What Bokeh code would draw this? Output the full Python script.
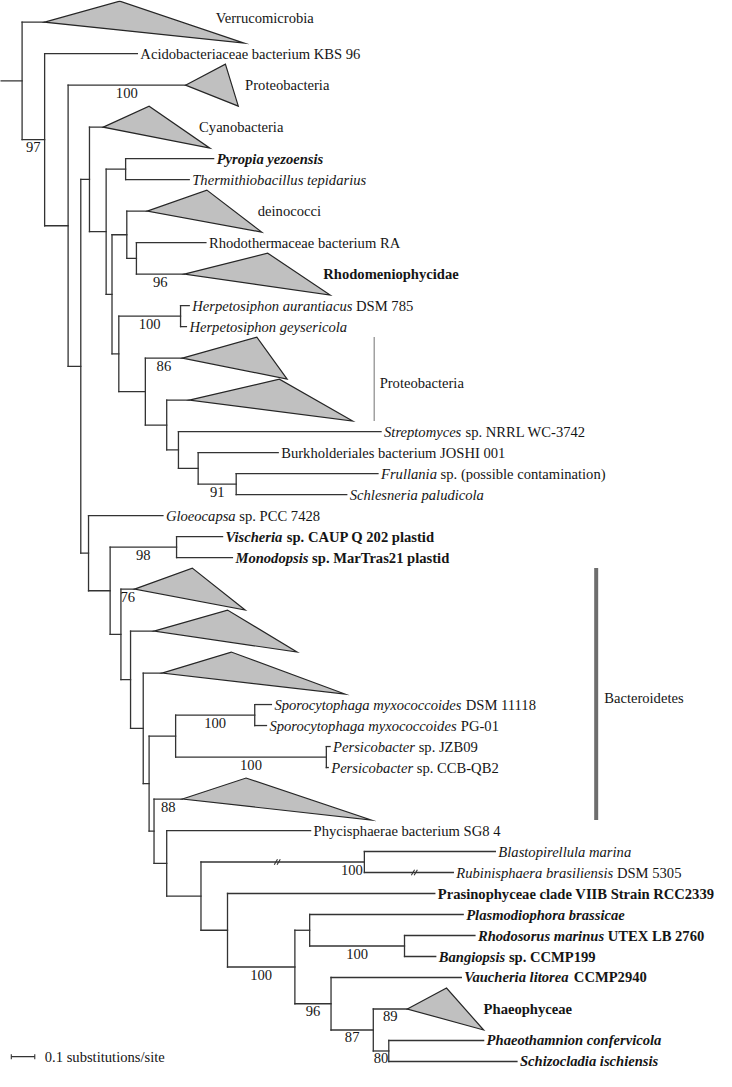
import re
from collections import defaultdict
from bokeh.plotting import figure
from bokeh.models import Range1d, ColumnDataSource
from bokeh.embed import file_html
from bokeh.resources import INLINE
from bokeh.core.properties import value

# ======================= DATA =======================
# internal nodes: depth in substitutions/site from the left edge
node_ids = ["root", "n1", "n2", "n3", "n4", "n5", "n6", "n7", "n8", "n9", "n10", "n11", "n12", "n13",
            "n14", "n15", "n16", "n17", "n18", "n19", "n20", "n21", "n22", "n23", "n24", "n25", "n26",
            "n27", "n28", "n29", "n30", "n31", "n32", "n33", "n34", "n35", "n36", "n37"]
node_parent = [None, "root", "n1", "n2", "n3", "n4", "n5", "n5", "n7", "n8", "n7", "n10", "n10", "n12",
               "n13", "n14", "n15", "n3", "n17", "n18", "n18", "n20", "n21", "n22", "n23", "n24", "n24",
               "n23", "n27", "n28", "n29", "n29", "n31", "n32", "n33", "n32", "n35", "n36"]
node_depth = [0.092, 0.188, 0.288, 0.342, 0.379, 0.450, 0.533, 0.475, 0.538, 0.579, 0.504, 0.767, 0.617,
              0.708, 0.758, 0.842, 1.004, 0.375, 0.467, 0.750, 0.513, 0.554, 0.608, 0.633, 0.746, 1.083,
              1.388, 0.654, 0.708, 0.854, 1.550, 0.967, 1.254, 1.317, 1.721, 1.408, 1.588, 1.654]
node_support = [None, "97", None, None, None, None, None, None, None, None, None, "100", None, None,
                None, None, "91", None, None, "98", None, None, None, None, None, "100", "100",
                None, None, None, "100", None, "100", None, "100", "96", "87", "80"]
node_break = [None] * 30 + [1.179] + [None] * 7

# terminal taxa
leaf_labels = [
    "Acidobacteriaceae bacterium KBS 96",
    "<i>Pyropia yezoensis</i>",
    "<i>Thermithiobacillus tepidarius</i>",
    "Rhodothermaceae bacterium RA",
    "<i>Herpetosiphon aurantiacus</i> DSM 785",
    "<i>Herpetosiphon geysericola</i>",
    "<i>Streptomyces</i> sp. NRRL WC-3742",
    "Burkholderiales bacterium JOSHI 001",
    "<i>Frullania</i> sp. (possible contamination)",
    "<i>Schlesneria paludicola</i>",
    "<i>Gloeocapsa</i> sp. PCC 7428",
    "<i>Vischeria</i> sp. CAUP Q 202 plastid",
    "<i>Monodopsis</i> sp. MarTras21 plastid",
    "<i>Sporocytophaga myxococcoides</i> DSM 11118",
    "<i>Sporocytophaga myxococcoides</i> PG-01",
    "<i>Persicobacter</i> sp. JZB09",
    "<i>Persicobacter</i> sp. CCB-QB2",
    "Phycisphaerae bacterium SG8 4",
    "<i>Blastopirellula marina</i>",
    "<i>Rubinisphaera brasiliensis</i> DSM 5305",
    "Prasinophyceae clade VIIB Strain RCC2339",
    "<i>Plasmodiophora brassicae</i>",
    "<i>Rhodosorus marinus</i> UTEX LB 2760",
    "<i>Bangiopsis</i> sp. CCMP199",
    "<i>Vaucheria litorea</i> CCMP2940",
    "<i>Phaeothamnion confervicola</i>",
    "<i>Schizocladia ischiensis</i>",
]
leaf_parent = ["n1", "n6", "n6", "n9", "n11", "n11", "n14", "n15", "n16", "n16", "n17", "n19", "n19",
               "n25", "n25", "n26", "n26", "n28", "n30", "n30", "n31", "n33", "n34", "n34", "n35",
               "n37", "n37"]
leaf_depth = [0.583, 0.908, 0.804, 0.875, 0.804, 0.792, 1.621, 1.183, 1.608, 1.475, 0.692, 0.946, 0.988,
              1.154, 1.133, 1.404, 1.396, 1.321, 2.108, 1.929, 1.850, 1.971, 2.021, 1.854, 1.963,
              2.058, 2.200]
leaf_row = [2.5, 7.5, 8.5, 11.5, 14.5, 15.5, 20.5, 21.5, 22.5, 23.5, 24.5, 25.5, 26.5, 33.5, 34.5,
            35.5, 36.5, 39.5, 40.5, 41.5, 42.5, 43.5, 44.5, 45.5, 46.5, 49.5, 50.5]
leaf_bold = [False, True, False, False, False, False, False, False, False, False, False, True, True,
             False, False, False, False, False, False, False, True, True, True, True, True, True, True]
leaf_break = [None] * 19 + [1.763] + [None] * 7

# collapsed clades (triangles): base depth, shortest and longest tip depth
clade_ids = ["verr", "prot", "cyan", "dein", "rhod", "protA", "protB", "bac1", "bac2", "bac3", "bac4",
             "phae"]
clade_labels = ["Verrucomicrobia", "Proteobacteria", "Cyanobacteria", "deinococci", "Rhodomeniophycidae",
                "", "", "", "", "", "", "Phaeophyceae"]
clade_parent = ["root", "n2", "n4", "n8", "n9", "n12", "n13", "n20", "n21", "n22", "n27", "n36"]
clade_base = [0.188, 0.788, 0.438, 0.625, 0.783, 0.775, 0.804, 0.571, 0.654, 0.688, 0.775, 1.733]
clade_min = [0.508, 0.958, 0.633, 0.879, 1.138, 1.092, 1.188, 0.817, 0.967, 0.983, 1.046, 1.900]
clade_max = [1.038, 1.013, 0.892, 1.113, 1.404, 1.221, 1.500, 1.042, 1.263, 1.467, 1.579, 2.058]
clade_row = [1.0, 4.0, 6.0, 10.0, 13.0, 17.0, 19.0, 28.0, 30.0, 32.0, 38.0, 48.0]
clade_support = [None, "100", None, None, "96", "86", None, "76", None, None, "88", "89"]
clade_bold = [False, False, False, False, True, False, False, False, False, False, False, True]

# grouped clades marked with a bar
group_labels = ["Proteobacteria", "Bacteroidetes"]
group_members = [["protA", "protB"], ["bac1", "bac2", "bac3", "bac4"]]

scale_length = 0.1
scale_label = "0.1 substitutions/site"

# ======================= LAYOUT =======================
W, H = 716, 1071
X0, X1 = 0.0, 3.05
Y_TOP, Y_BOT = -0.032, 50.977
PPX = W / (X1 - X0)
PPY = H / (Y_BOT - Y_TOP)
FONT = value("Liberation Serif")
FS = value("14.6px")
FSPX = 14.6
LINE = "#333333"
TXT = "#151515"
TRI_HALF = 1.0
clade_label_x = {"verr": 0.917, "prot": 1.042, "cyan": 0.846, "dein": 1.096, "rhod": 1.375, "phae": 2.058}
clade_label_dy = {"verr": -0.2}
group_bar_x = [1.592, 2.5375]
group_bar_w = [1.4, 4.0]
group_bar_c = ["#9a9a9a", "#6e6e6e"]
support_at_node = {"n30"}
scale_x0 = 0.046
scale_row = 50.27

# Times/Liberation Serif advance widths (per em) for italic + bold italic
_low = "abcdefghijklmnopqrstuvwxyz"
_cap = "ABCDEFGHIJKLMNOPQRSTUVWXYZ"
WID = {
    "italic": dict(zip(_low + _cap, [500, 500, 444, 500, 444, 278, 500, 500, 278, 278, 444, 278, 722, 500, 500,
                                      500, 500, 389, 389, 278, 500, 444, 667, 444, 444, 389,
                                      611, 611, 667, 722, 611, 611, 722, 722, 333, 444, 667, 556, 833, 667,
                                      722, 611, 722, 611, 500, 556, 722, 611, 833, 611, 556, 556])),
    "bold italic": dict(zip(_low + _cap, [500, 500, 444, 500, 444, 333, 500, 556, 278, 278, 500, 278, 778, 556,
                                           500, 500, 500, 389, 389, 278, 556, 444, 667, 500, 444, 389,
                                           667, 667, 667, 722, 667, 667, 722, 778, 389, 500, 667, 611, 889,
                                           722, 722, 611, 722, 667, 556, 611, 722, 667, 889, 667, 611, 611])),
}


def text_w(s, style):
    tab = WID.get(style, {})
    return sum(tab.get(ch, 500 if ch != " " else 250) for ch in s) / 1000.0 * FSPX


# ======================= TREE GEOMETRY =======================
depth, children, row = {}, defaultdict(list), {}
for nid, par, d in zip(node_ids, node_parent, node_depth):
    depth[nid] = d
    if par:
        children[par].append(nid)
leaf_keys = []
for i, (par, d, r) in enumerate(zip(leaf_parent, leaf_depth, leaf_row)):
    k = "leaf%d" % i
    leaf_keys.append(k)
    depth[k] = d
    row[k] = r
    children[par].append(k)
for cid, par, d, r in zip(clade_ids, clade_parent, clade_base, clade_row):
    depth[cid] = d
    row[cid] = r
    children[par].append(cid)


def get_row(n):
    if n not in row:
        rs = [get_row(c) for c in children[n]]
        row[n] = (min(rs) + max(rs)) / 2.0
    return row[n]


get_row("root")
parent = {}
for par, kids in children.items():
    for k in kids:
        parent[k] = par

x0s, y0s, x1s, y1s = [], [], [], []
# root stub
x0s.append(0.0); y0s.append(row["root"]); x1s.append(depth["root"]); y1s.append(row["root"])
for k, par in parent.items():
    x0s.append(depth[par]); y0s.append(row[k]); x1s.append(depth[k]); y1s.append(row[k])
for nid in node_ids:
    rs = [row[c] for c in children[nid]]
    x0s.append(depth[nid]); y0s.append(min(rs)); x1s.append(depth[nid]); y1s.append(max(rs))

p = figure(width=W, height=H, x_range=Range1d(X0, X1), y_range=Range1d(Y_BOT, Y_TOP),
           output_backend="svg", toolbar_location=None, x_axis_type=None, y_axis_type=None,
           min_border=0, outline_line_color=None)
p.grid.visible = False
p.background_fill_color = "white"

p.segment(x0s, y0s, x1s, y1s, line_color=LINE, line_width=1.3, line_cap="square")

# triangles
xs, ys = [], []
for cid, b, mn, mx, r in zip(clade_ids, clade_base, clade_min, clade_max, clade_row):
    xs.append([b, mn, mx])
    ys.append([r, r - TRI_HALF, r + TRI_HALF])
p.patches(xs, ys, fill_color="#c0c0c0", line_color="#262626", line_width=1.2, line_join="miter")

# branch breaks "//"
bx0, by0, bx1, by1 = [], [], [], []
breaks = [(nid, b) for nid, b in zip(node_ids, node_break) if b] + \
         [(k, b) for k, b in zip(leaf_keys, leaf_break) if b]
for k, b in breaks:
    r = row[k]
    for s in (-1.4, 1.4):
        bx0.append(b + (s - 1.6) / PPX); by0.append(r + 2.8 / PPY)
        bx1.append(b + (s + 1.6) / PPX); by1.append(r - 2.8 / PPY)
p.segment(bx0, by0, bx1, by1, line_color=LINE, line_width=1.1)

# group bars
for lab, mem, gx, gw, gc in zip(group_labels, group_members, group_bar_x, group_bar_w, group_bar_c):
    idx = [clade_ids.index(m) for m in mem]
    top = min(clade_row[i] for i in idx) - TRI_HALF
    bot = max(clade_row[i] for i in idx) + TRI_HALF
    p.segment([gx], [top], [gx], [bot], line_color=gc, line_width=gw)
    p.text([gx + (4 + gw) / PPX], [(top + bot) / 2 + 4 / PPY], text=[lab], text_font=FONT,
           text_font_size=FS, text_color=TXT, text_baseline="middle", text_align="left")

# support values
sx, sy, st, sxr, syr, str_ = [], [], [], [], [], []
items = list(zip(node_ids, node_support)) + list(zip(clade_ids, clade_support))
for k, s in items:
    if not s:
        continue
    par = parent[k]
    if k in support_at_node:
        sxr.append(depth[k] - 1.5 / PPX); syr.append(row[k] + 7.5 / PPY); str_.append(s)
    else:
        sx.append((depth[par] + depth[k]) / 2); sy.append(row[k] + 7.5 / PPY); st.append(s)
p.text(sx, sy, text=st, text_font=FONT, text_font_size=FS, text_color=TXT,
       text_baseline="middle", text_align="center")
p.text(sxr, syr, text=str_, text_font=FONT, text_font_size=FS, text_color=TXT,
       text_baseline="middle", text_align="right")

# leaf labels (mixed italic / roman runs)
runs = defaultdict(lambda: ([], [], []))
for k, lab, bold in zip(leaf_keys, leaf_labels, leaf_bold):
    off = 3.0
    for part in re.split(r"(<i>.*?</i>)", lab):
        if not part:
            continue
        ital = part.startswith("<i>")
        txt = re.sub(r"</?i>", "", part)
        style = ("bold " if bold else "") + ("italic" if ital else "")
        style = style.strip() or "normal"
        lead = len(txt) - len(txt.lstrip(" "))
        off += lead * 0.25 * FSPX
        txt = txt.lstrip(" ")
        xs_, ys_, ts_ = runs[style]
        xs_.append(depth[k] + off / PPX); ys_.append(row[k]); ts_.append(txt)
        off += text_w(txt, style)
for style, (xs_, ys_, ts_) in runs.items():
    p.text(xs_, ys_, text=ts_, text_font=FONT, text_font_size=FS, text_color=TXT,
           text_font_style=style, text_baseline="middle", text_align="left")

# clade labels
for cid, lab, bold, r in zip(clade_ids, clade_labels, clade_bold, clade_row):
    if not lab:
        continue
    p.text([clade_label_x[cid]], [r + clade_label_dy.get(cid, 0.0)], text=[lab], text_font=FONT,
           text_font_size=FS, text_color=TXT, text_font_style="bold" if bold else "normal",
           text_baseline="middle", text_align="left")

# scale bar
sx1 = scale_x0 + scale_length
p.segment([scale_x0, scale_x0, sx1], [scale_row, scale_row - 2.5 / PPY, scale_row - 2.5 / PPY],
          [sx1, scale_x0, sx1], [scale_row, scale_row + 2.5 / PPY, scale_row + 2.5 / PPY],
          line_color=LINE, line_width=1.1)
p.text([sx1 + 10 / PPX], [scale_row], text=[scale_label], text_font=FONT, text_font_size=FS,
       text_color=TXT, text_baseline="middle", text_align="left")

open("out.html", "w").write(file_html(p, INLINE))
